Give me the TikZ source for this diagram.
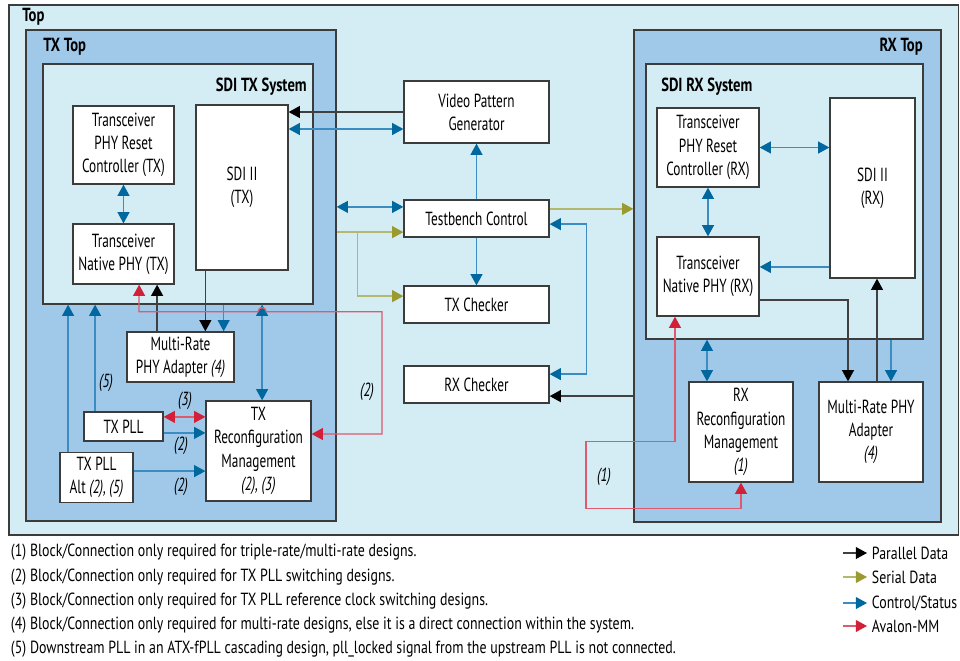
\documentclass[tikz,border=0pt]{standalone}
\usepackage{fontspec}
\setmainfont{PT Sans}[FakeStretch=0.7]
\newfontfamily\notefamily{PT Sans}[FakeStretch=0.79]
\newfontfamily\labelfamily{PT Sans}[FakeStretch=0.77]
\usetikzlibrary{arrows.meta}

\definecolor{topbg}{HTML}{D4ECF4}
\definecolor{midbg}{HTML}{A0C8E8}
\definecolor{framegray}{HTML}{3C3C3C}
\definecolor{parline}{HTML}{404040}
\definecolor{serline}{HTML}{B4B86E}
\definecolor{serhead}{HTML}{9A9A30}
\definecolor{ctrlline}{HTML}{3A8CC2}
\definecolor{ctrlhead}{HTML}{00689E}
\definecolor{avline}{HTML}{DE5A6E}
\definecolor{avhead}{HTML}{D22038}

\newcommand\boxfont{\fontsize{13.5}{16.5}\selectfont}
\newcommand\notefont{\notefamily\fontsize{12.5}{15}\selectfont}

\tikzstyle{container} = [rectangle, draw=framegray, line width=0.9pt, inner sep=0pt]
\tikzstyle{block} = [rectangle, draw=framegray, fill=white, line width=0.9pt, align=center, font=\boxfont]
\tikzstyle{grouplabel} = [font=\labelfamily\boxfont\bfseries, inner sep=0pt]
\tikzstyle{tag} = [font=\boxfont\itshape, inner sep=1pt]
\tikzstyle{note} = [font=\notefont, anchor=west]
\tikzstyle{parallel} = [draw=parline, line width=0.9pt, >={Triangle[length=8pt,width=8.5pt,color=black]}]
\tikzstyle{serial} = [draw=serline, line width=0.9pt, >={Triangle[length=8pt,width=8.5pt,color=serhead]}]
\tikzstyle{ctrl} = [draw=ctrlline, line width=0.9pt, >={Triangle[length=8pt,width=8.5pt,color=ctrlhead]}]
\tikzstyle{avalon} = [draw=avline, line width=0.9pt, >={Triangle[length=8pt,width=8.5pt,color=avhead]}]

\begin{document}
\begin{tikzpicture}[x=0.025cm, y=-0.025cm]
        \useasboundingbox (0,0) rectangle (960,660);

        % Containers
        \node (top) [container, fill=topbg, minimum width=23.725cm, minimum height=13.25cm] at (483.5,270) {};
        \node (txtop) [container, fill=midbg, minimum width=7.75cm, minimum height=12.275cm] at (181,275.5) {};
        \node (txsys) [container, fill=topbg, minimum width=6.75cm, minimum height=6cm] at (178,184) {};
        \node (rxtop) [container, fill=midbg, minimum width=7.675cm, minimum height=12.3cm] at (787.5,276) {};
        \node (rxsys) [container, fill=topbg, minimum width=6.925cm, minimum height=6.875cm] at (784.5,201.5) {};

        \node (toplbl) [grouplabel, anchor=base west] at (22,21) {Top};
        \node (txtoplbl) [grouplabel, anchor=base west] at (43,51) {TX Top};
        \node (txsyslbl) [grouplabel, anchor=base east] at (307,91) {SDI TX System};
        \node (rxtoplbl) [grouplabel, anchor=base east] at (923,51) {RX Top};
        \node (rxsyslbl) [grouplabel, anchor=base west] at (661,91) {SDI RX System};

        % Nodes
        \node (txrst) [block, minimum width=2.525cm, minimum height=1.95cm] at (123.5,145) {Transceiver\\PHY Reset\\Controller (TX)};
        \node (txphy) [block, minimum width=2.525cm, minimum height=1.5cm] at (123.5,254) {Transceiver\\Native PHY (TX)};
        \node (txsdi) [block, minimum width=2.3cm, minimum height=4.125cm] at (242,187.5) {SDI II\\(TX)};
        \node (txmr) [block, minimum width=2.675cm, minimum height=1.2cm] at (180.5,357) {Multi-Rate\\PHY Adapter \textit{(4)}};
        \node (txrcfg) [block, minimum width=2.625cm, minimum height=2.5cm] at (258.5,451) {TX\\Reconfiguration\\Management\\\textit{(2), (3)}};
        \node (txpll) [block, minimum width=1.975cm, minimum height=0.725cm] at (123.5,426.5) {TX PLL};
        \node (txpllalt) [block, minimum width=1.825cm, minimum height=1.225cm] at (96.5,477.5) {TX PLL\\Alt \textit{(2), (5)}};

        \node (vpg) [block, minimum width=3.625cm, minimum height=1.55cm] at (476.5,112) {Video Pattern\\Generator};
        \node (tbc) [block, minimum width=3.625cm, minimum height=0.925cm] at (476.5,218.5) {Testbench Control};
        \node (txchk) [block, minimum width=3.625cm, minimum height=0.925cm] at (476.5,304.5) {TX Checker};
        \node (rxchk) [block, minimum width=3.625cm, minimum height=0.925cm] at (476.5,384.5) {RX Checker};

        \node (rxrst) [block, minimum width=2.55cm, minimum height=1.975cm] at (708,147.5) {Transceiver\\PHY Reset\\Controller (RX)};
        \node (rxsdi) [block, minimum width=2.125cm, minimum height=4.5cm] at (872.5,188) {SDI II\\(RX)};
        \node (rxphy) [block, minimum width=2.55cm, minimum height=1.975cm] at (708,276.5) {Transceiver\\Native PHY (RX)};
        \node (rxrcfg) [block, minimum width=2.6cm, minimum height=2.5cm] at (741,432) {RX\\Reconfiguration\\Management\\\textit{(1)}};
        \node (rxmr) [block, minimum width=2.6cm, minimum height=2.5cm] at (871,432) {Multi-Rate PHY\\Adapter\\\textit{(4)}};

        % Arrows (TX side)
        \draw [ctrl, <->] (txrst.south) -- (txphy.north);
        \draw [parallel, ->] (vpg.west) -- (vpg.west -| txsdi.east);
        \draw [ctrl, <->] ([yshift=-0.425cm]vpg.west) -- ([yshift=-0.425cm]vpg.west -| txsdi.east);
        \draw [parallel, ->] ([xshift=0.25cm]txsdi.south west) -- ([xshift=0.25cm]txsdi.south west |- txmr.north);
        \draw [ctrl, ->] ([xshift=-0.275cm]txmr.north east |- txsys.south) -- ([xshift=-0.275cm]txmr.north east);
        \draw [parallel, ->] ([xshift=0.84cm]txphy.south |- txmr.north) -- ([xshift=0.84cm]txphy.south);
        \draw [ctrl, <->] ([xshift=0.09cm]txrcfg.north |- txsys.south) -- ([xshift=0.09cm]txrcfg.north);
        \draw [avalon, <->] ([xshift=0.39cm]txphy.south) -- ++(0,27) -- ++(119,0)
              arc [start angle=180, end angle=360, radius=4] -- ++(116,0) |- ([yshift=0.425cm]txrcfg.east);
        \draw [avalon, <->] ([yshift=0.24cm]txpll.east) -- ([yshift=0.24cm]txpll.east -| txrcfg.west);
        \draw [ctrl, ->] ([yshift=-0.16cm]txpll.east) -- ([yshift=-0.16cm]txpll.east -| txrcfg.west);
        \draw [ctrl, ->] ([yshift=0.16cm]txpllalt.east) -- ([yshift=0.16cm]txpllalt.east -| txrcfg.west);
        \draw [ctrl, ->] ([xshift=-0.71cm]txpll.north) -- ([xshift=-0.71cm]txpll.north |- txsys.south);
        \draw [ctrl, ->] ([xshift=-0.71cm]txpllalt.north) -- ([xshift=-0.71cm]txpllalt.north |- txsys.south);

        % Arrows (testbench)
        \draw [ctrl, ->] (tbc.north) -- (vpg.south);
        \draw [ctrl, ->] (tbc.south) -- (txchk.north);
        \draw [ctrl, <->] ([yshift=0.29cm]tbc.west -| txtop.east) -- ([yshift=0.29cm]tbc.west);
        \draw [serial, ->] ([yshift=-0.34cm]tbc.west -| txtop.east) -- ([yshift=-0.34cm]tbc.west);
        \draw [serial, ->] ([xshift=0.525cm, yshift=-0.34cm]tbc.west -| txtop.east) |- ([yshift=0.21cm]txchk.west);
        \draw [serial, ->] ([yshift=0.24cm]tbc.east) -- ([yshift=0.24cm]tbc.east -| rxtop.west);
        \draw [ctrl, <->] ([yshift=-0.14cm]tbc.east) -- ++(37,0) |- ([yshift=0.26cm]rxchk.east);
        \draw [parallel, ->] ([yshift=-0.29cm]rxchk.east -| rxtop.west) -- ([yshift=-0.29cm]rxchk.east);

        % Arrows (RX side)
        \draw [ctrl, <->] (rxrst.east) -- (rxrst.east -| rxsdi.west);
        \draw [ctrl, <->] (rxrst.south) -- (rxphy.north);
        \draw [ctrl, ->] ([yshift=0.24cm]rxphy.east -| rxsdi.west) -- ([yshift=0.24cm]rxphy.east);
        \draw [parallel, ->] ([yshift=-0.59cm]rxphy.east) -| ([xshift=-0.575cm]rxmr.north);
        \draw [parallel, ->] ([xshift=0.15cm]rxmr.north) -- ([xshift=0.15cm]rxmr.north |- rxsdi.south);
        \draw [ctrl, ->] ([xshift=0.5cm]rxmr.north |- rxsys.south) -- ([xshift=0.5cm]rxmr.north);
        \draw [ctrl, <->] ([xshift=-0.85cm]rxrcfg.north |- rxsys.south) -- ([xshift=-0.85cm]rxrcfg.north);
        \draw [avalon, <->] (rxrcfg.south) -- ++(0,26) -- ++(-155,0) -- ++(0,-67) -| ([xshift=-0.825cm]rxphy.south);

        % Tags
        \node (tag5) [tag] at (106,383) {(5)};
        \node (tag3) [tag] at (185,401) {(3)};
        \node (tag2a) [tag] at (181,446) {(2)};
        \node (tag2b) [tag] at (181,487) {(2)};
        \node (tag2c) [tag] at (367,392) {(2)};
        \node (tag1) [tag] at (604,477) {(1)};

        % Notes
        \node (note1) [note] at (6,552) {(1) Block/Connection only required for triple-rate/multi-rate designs.};
        \node (note2) [note] at (6,577) {(2) Block/Connection only required for TX PLL switching designs.};
        \node (note3) [note] at (6,601) {(3) Block/Connection only required for TX PLL reference clock switching designs.};
        \node (note4) [note] at (6,625) {(4) Block/Connection only required for multi-rate designs, else it is a direct connection within the system.};
        \node (note5) [note] at (6,649) {(5) Downstream PLL in an ATX-fPLL cascading design, pll\_locked signal from the upstream PLL is not connected.};

        % Legend
        \node (lgpartxt) [note] at (867,553) {Parallel Data};
        \node (lgsertxt) [note] at (867,577) {Serial Data};
        \node (lgctrltxt) [note] at (867,603) {Control/Status};
        \node (lgavtxt) [note] at (867,626) {Avalon-MM};
        \coordinate (lgpar) at (843,553);
        \coordinate (lgser) at (843,577);
        \coordinate (lgctrl) at (843,603);
        \coordinate (lgav) at (843,626);
        \draw [parallel, ->] (lgpar) -- (lgpartxt.west);
        \draw [serial, ->] (lgser) -- (lgsertxt.west);
        \draw [ctrl, ->] (lgctrl) -- (lgctrltxt.west);
        \draw [avalon, ->] (lgav) -- (lgavtxt.west);
    \end{tikzpicture}
\end{document}
